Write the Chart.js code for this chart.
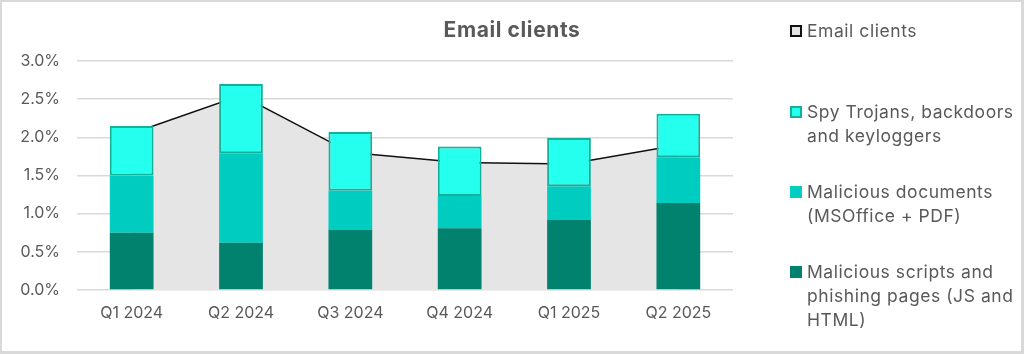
<!DOCTYPE html>
<html>
<head>
<meta charset="utf-8">
<script src="https://cdn.jsdelivr.net/npm/chart.js@4/dist/chart.umd.min.js"></script>
<style>
  html, body { margin: 0; padding: 0; background: #fff; }
  #wrap { position: relative; width: 1024px; height: 354px; overflow: hidden; font-family: Inter, "Noto Sans", sans-serif; }
  #c { position: absolute; left: 0; top: 0; }
  #frame { position: absolute; left: 0; top: 0; width: 1024px; height: 354px; box-sizing: border-box; border: 2px solid #d9d9d9; border-right-width: 3px; border-bottom-width: 3px; pointer-events: none; }
  #title { position: absolute; left: 0; width: 1024px; top: 16px; text-align: center; font-size: 21px; font-weight: 700; letter-spacing: 0.6px; color: #595959; line-height: 28px; }
  .lg { position: absolute; left: 790px; font-size: 17.5px; letter-spacing: 0.55px; color: #595959; line-height: 24px; white-space: nowrap; }
  .lg .box { position: absolute; left: 0; top: 6px; width: 12px; height: 12px; box-sizing: border-box; }
  .lg .txt { position: absolute; left: 17px; top: 0; }
</style>
</head>
<body>
<div id="wrap">
  <canvas id="c" width="1024" height="354"></canvas>
  <div id="title">Email clients</div>
  <div id="legend"></div>
  <div id="frame"></div>
</div>
<script>
const categories = ["Q1 2024", "Q2 2024", "Q3 2024", "Q4 2024", "Q1 2025", "Q2 2025"];
const emailClients = [2.05, 2.55, 1.80, 1.67, 1.65, 1.90];
const spyTrojans = [0.65, 0.91, 0.77, 0.65, 0.63, 0.57];
const maliciousDocs = [0.75, 1.17, 0.51, 0.42, 0.44, 0.60];
const maliciousScripts = [0.75, 0.62, 0.79, 0.81, 0.92, 1.14];
const yTicks = [0, 0.5, 1.0, 1.5, 2.0, 2.5, 3.0];

const colDark = "#00826e";
const colMid = "#00ccbf";
const colSpy = "#24ffee";
const colSpyBorder = "#14b09a";
const colArea = "#e5e5e5";

const legendItems = [
  { lines: ["Email clients"], top: 19, fill: colArea, border: "2px solid #111" },
  { lines: ["Spy Trojans, backdoors", "and keyloggers"], top: 100, fill: colSpy, border: "2px solid " + colSpyBorder },
  { lines: ["Malicious documents", "(MSOffice + PDF)"], top: 180, fill: colMid, border: "none" },
  { lines: ["Malicious scripts and", "phishing pages (JS and", "HTML)"], top: 260, fill: colDark, border: "none" }
];
const lg = document.getElementById("legend");
legendItems.forEach(it => {
  const d = document.createElement("div");
  d.className = "lg";
  d.style.top = it.top + "px";
  const b = document.createElement("div");
  b.className = "box";
  b.style.background = it.fill;
  b.style.border = it.border;
  const t = document.createElement("div");
  t.className = "txt";
  t.innerHTML = it.lines.map(s => s.replace(/&/g, "&amp;")).join("<br>");
  d.appendChild(b); d.appendChild(t);
  lg.appendChild(d);
});

const tickFont = { family: "Inter, 'Noto Sans', sans-serif", size: 16 };

new Chart(document.getElementById("c"), {
  data: {
    labels: categories,
    datasets: [
      {
        type: "bar", label: "Malicious scripts and phishing pages (JS and HTML)",
        data: maliciousScripts, backgroundColor: colDark, borderWidth: 0,
        stack: "bars", order: 1, barPercentage: 0.4, categoryPercentage: 1.0
      },
      {
        type: "bar", label: "Malicious documents (MSOffice + PDF)",
        data: maliciousDocs, backgroundColor: colMid, borderWidth: 0,
        stack: "bars", order: 1, barPercentage: 0.4, categoryPercentage: 1.0
      },
      {
        type: "bar", label: "Spy Trojans, backdoors and keyloggers",
        data: spyTrojans, backgroundColor: colSpy, borderColor: colSpyBorder, borderWidth: 2,
        borderSkipped: false, stack: "bars", order: 1, barPercentage: 0.4, categoryPercentage: 1.0
      },
      {
        type: "line", label: "Email clients",
        data: emailClients, borderColor: "#111", borderWidth: 1.5, backgroundColor: colArea,
        fill: "origin", tension: 0, pointRadius: 0, stack: "line", order: 10
      }
    ]
  },
  options: {
    responsive: false,
    animation: false,
    devicePixelRatio: 1,
    layout: { padding: { left: 0, top: 61, right: 291, bottom: 0 } },
    plugins: { legend: { display: false }, title: { display: false }, tooltip: { enabled: false } },
    scales: {
      x: {
        stacked: true,
        grid: { display: false, drawTicks: false },
        border: { display: false },
        ticks: { color: "#595959", font: tickFont, padding: 14, maxRotation: 0 },
        afterFit: s => { s.height = 64; }
      },
      y: {
        stacked: true,
        min: 0, max: 3.0,
        afterBuildTicks: s => { s.ticks = yTicks.map(v => ({ value: v })); },
        grid: { color: "#d9d9d9", lineWidth: 1.5, drawTicks: false },
        border: { display: false },
        ticks: { color: "#595959", font: tickFont, padding: 17, callback: v => v.toFixed(1) + "%" },
        afterFit: s => { s.width = 77; }
      }
    }
  }
});
</script>
</body>
</html>
